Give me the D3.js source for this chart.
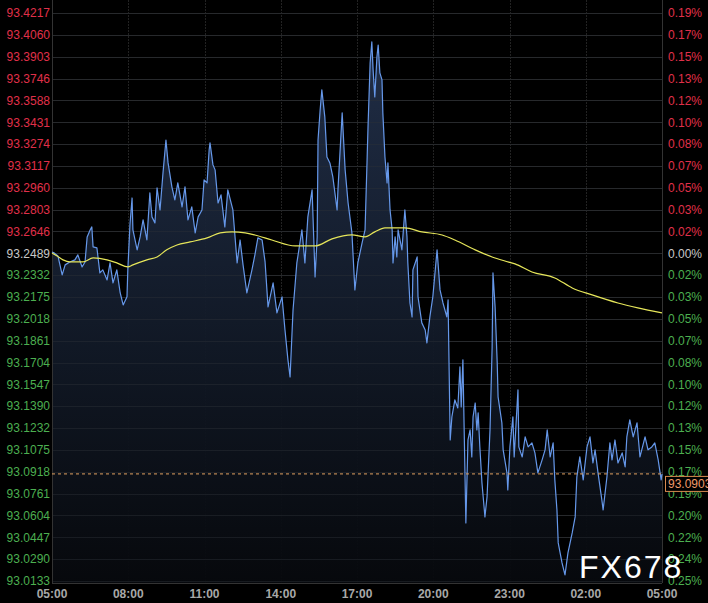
<!DOCTYPE html>
<html><head><meta charset="utf-8">
<script src="https://cdn.jsdelivr.net/npm/d3@7"></script>
<style>
html,body{margin:0;padding:0;background:#000;}
svg{display:block;}
</style></head>
<body>
<svg id="chart" width="708" height="603"></svg>
<script>
// ---------- DATA ----------
const basePrice = 93.2489;
const lastPrice = 93.0903;
const leftLabels = ["93.4217","93.4060","93.3903","93.3746","93.3588","93.3431","93.3274","93.3117","93.2960","93.2803","93.2646","93.2489","93.2332","93.2175","93.2018","93.1861","93.1704","93.1547","93.1390","93.1232","93.1075","93.0918","93.0761","93.0604","93.0447","93.0290","93.0133"];
const rightLabels = ["0.19%","0.17%","0.15%","0.13%","0.12%","0.10%","0.08%","0.07%","0.05%","0.03%","0.02%","0.00%","0.02%","0.03%","0.05%","0.07%","0.08%","0.10%","0.12%","0.13%","0.15%","0.17%","0.19%","0.20%","0.22%","0.24%","0.25%"];
const timeLabels = ["05:00","08:00","11:00","14:00","17:00","20:00","23:00","02:00","05:00"];
const timeTicks = [0,180,360,540,720,900,1080,1260,1440]; // minutes after 05:00

// price series: minutes after 05:00 and price
const priceMinutes = [0,5,14,24,31,42,54,61,71,78,83,90,94,97,106,113,120,130,137,144,153,161,168,177,179,184,189,191,201,208,215,224,231,236,243,248,255,262,269,274,283,290,297,307,314,321,330,338,345,354,359,366,371,373,380,385,392,399,408,415,427,437,444,451,460,472,479,486,496,503,510,522,531,543,550,557,562,569,578,590,597,604,614,621,626,628,633,637,644,649,656,663,673,675,685,692,699,708,715,722,732,739,744,746,751,755,758,762,767,770,774,779,781,786,791,793,798,803,805,810,814,817,826,833,838,840,845,850,852,862,864,873,881,885,892,899,909,916,923,932,935,
  940,944,951,958,963,966,970,973,977,982,987,991,994,999,1003,1006,1010,1015,1022,1027,1034,1039,1041,1046,1051,1053,1062,1065,1074,1076,1081,1088,1091,1100,1102,1110,1117,1124,1133,1140,1147,1157,1164,1169,1176,1183,1187,1192,1195,1204,1211,
  1218,1228,1235,1239,1246,1254,1263,1270,1277,1282,1289,1298,1301,1310,1317,1322,1329,1336,1346,1353,1357,1364,1372,1381,1388,1400,1407,1416,1423,1431,1438,1440];
const prices = [93.2499,93.2492,93.2470,93.2334,93.2406,93.2427,93.2442,93.2478,93.2391,93.2427,93.2607,93.2657,93.2679,93.2535,93.2528,93.2348,93.2370,93.2298,93.2420,93.2276,93.2370,93.2204,93.2118,93.2176,93.2370,93.2693,93.2887,93.2657,93.2514,93.2607,93.2729,93.2585,93.2923,93.2751,93.2708,93.2959,93.2801,93.3067,93.3304,93.3139,93.2967,93.2873,93.2995,93.2823,93.2967,93.2729,93.2823,93.2636,93.2751,93.2801,93.3017,93.2995,93.3233,93.3283,93.3125,93.3089,93.2851,93.2909,93.2679,93.2945,93.2801,93.2420,93.2585,93.2406,93.2204,93.2370,93.2478,93.2600,93.2585,93.2427,93.2104,93.2276,93.2061,93.2176,93.1938,93.1723,93.1600,93.2082,93.2420,93.2657,93.2420,93.2751,93.2945,93.2319,93.2607,93.3304,93.3520,93.3664,93.3470,93.3182,93.3139,93.3038,93.2801,93.2945,93.3499,93.3089,93.2851,93.2636,93.2226,93.2420,93.2564,93.2657,93.3182,93.3398,93.3858,93.4009,93.3808,93.3614,93.3901,93.3987,93.3786,93.3736,93.3499,93.3182,93.2995,93.3139,93.2801,93.2657,93.2420,93.2607,93.2463,93.2657,93.2514,93.2801,93.2607,93.2420,93.2132,93.2032,93.2370,93.2463,93.2176,93.1989,93.1938,93.1845,93.2032,93.2176,93.2514,93.2226,93.2132,93.2032,93.2154,
  93.1147,93.1313,93.1435,93.1377,93.1672,93.1385,93.1723,93.1219,93.0551,93.1147,93.1219,93.1025,93.1313,93.1413,93.1219,93.1342,93.1097,93.0838,93.0594,93.0738,93.1219,93.1816,93.2348,93.2104,93.1701,93.1457,93.1270,93.1076,93.0910,93.0788,93.1097,93.1313,93.1025,93.1507,93.1097,93.1025,93.1169,93.1097,93.1126,93.1054,93.0910,93.1004,93.1076,93.1219,93.1025,93.1126,93.0860,93.0644,93.0407,93.0263,93.0177,
  93.0335,93.0479,93.0594,93.0881,93.1025,93.0860,93.1097,93.1169,93.0982,93.1076,93.0910,93.0716,93.0644,93.0881,93.1126,93.1004,93.1147,93.0982,93.1054,93.0953,93.1169,93.1291,93.1169,93.1270,93.1025,93.1169,93.1076,93.1097,93.1126,93.1004,93.0860,93.0903];

// moving average series
const maMinutes = [0,12,26,42,73,97,130,153,179,191,224,248,271,295,326,366,397,425,456,479,519,574,621,661,708,739,762,786,833,873,921,951,999,1039,1069,1093,1133,1187,1228,1275,1336,1383,1440];
const maPrices = [93.2492,93.2470,93.2442,93.2427,93.2427,93.2456,93.2442,93.2420,93.2391,93.2406,93.2442,93.2463,93.2514,93.2549,93.2571,93.2600,93.2636,93.2643,93.2636,93.2621,93.2585,93.2542,93.2542,93.2593,93.2621,93.2607,93.2643,93.2672,93.2672,93.2643,93.2621,93.2585,93.2514,93.2463,93.2434,93.2413,93.2355,93.2312,93.2240,93.2190,93.2132,93.2097,93.2061];

// ---------- CHART ----------
(function(){
const svg = d3.select("#chart");
const pLeft = 52, pRight = 662, pTop = 13, pBottom = 581;
const x = d3.scaleLinear().domain([0,1440]).range([pLeft,pRight]);
const y = d3.scaleLinear().domain([+leftLabels[leftLabels.length-1], +leftLabels[0]]).range([pBottom, pTop]);

svg.append("rect").attr("width",708).attr("height",603).attr("fill","#000");

const defs = svg.append("defs");
const grad = defs.append("linearGradient").attr("id","areaGrad")
  .attr("gradientUnits","userSpaceOnUse").attr("x1",0).attr("y1",40).attr("x2",0).attr("y2",583);
grad.append("stop").attr("offset","0%").attr("stop-color","#22304a");
grad.append("stop").attr("offset","55%").attr("stop-color","#121a28");
grad.append("stop").attr("offset","100%").attr("stop-color","#07090d");

// horizontal grid
const gridG = svg.append("g");
leftLabels.forEach(v => {
  gridG.append("line").attr("x1",pLeft).attr("x2",pRight)
    .attr("y1",Math.round(y(+v))+0.5).attr("y2",Math.round(y(+v))+0.5)
    .attr("stroke","#262626").attr("stroke-width",1);
});
// vertical grid
timeTicks.forEach(t => {
  gridG.append("line").attr("x1",Math.round(x(t))+0.5).attr("x2",Math.round(x(t))+0.5)
    .attr("y1",0).attr("y2",583)
    .attr("stroke","#222").attr("stroke-width",1).attr("stroke-dasharray","2,1");
});

const pts = priceMinutes.map((m,i)=>[m,prices[i]]);
const area = d3.area().x(d=>x(d[0])).y0(583).y1(d=>y(d[1]));
svg.append("path").datum(pts).attr("d",area).attr("fill","url(#areaGrad)").attr("opacity",0.95);

// re-draw grid faintly over fill
leftLabels.forEach(v => {
  svg.append("line").attr("x1",pLeft).attr("x2",pRight)
    .attr("y1",Math.round(y(+v))+0.5).attr("y2",Math.round(y(+v))+0.5)
    .attr("stroke","#2a2e36").attr("stroke-opacity",0.45).attr("stroke-width",1);
});

// axis frame
svg.append("line").attr("x1",pLeft+0.5).attr("x2",pLeft+0.5).attr("y1",0).attr("y2",583).attr("stroke","#333");
svg.append("line").attr("x1",pRight+0.5).attr("x2",pRight+0.5).attr("y1",0).attr("y2",583).attr("stroke","#333");
svg.append("line").attr("x1",pLeft).attr("x2",pRight).attr("y1",583.5).attr("y2",583.5).attr("stroke","#333");

// price line
const line = d3.line().x(d=>x(d[0])).y(d=>y(d[1]));
svg.append("path").datum(pts).attr("d",line).attr("fill","none")
  .attr("stroke","#6698ea").attr("stroke-width",1.2).attr("stroke-linejoin","round");

// MA line
const maPts = maMinutes.map((m,i)=>[m,maPrices[i]]);
svg.append("path").datum(maPts).attr("d",d3.line().curve(d3.curveMonotoneX).x(d=>x(d[0])).y(d=>y(d[1])))
  .attr("fill","none").attr("stroke","#e6e65a").attr("stroke-width",1.2);

// last price dashed line
svg.append("line").attr("x1",pLeft).attr("x2",pRight).attr("y1",y(lastPrice)).attr("y2",y(lastPrice))
  .attr("stroke","#e0a060").attr("stroke-width",1).attr("stroke-dasharray","3,3");

// left / right labels
const colorFor = v => (Math.abs(v-basePrice)<1e-6 ? "#c8c8c8" : (v>basePrice ? "#e0304a" : "#4caf50"));
const font = "'Liberation Sans', Arial, sans-serif";
leftLabels.forEach((s,i) => {
  const v = +s;
  svg.append("text").attr("x",50).attr("y",y(v)).attr("dy","0.36em")
    .attr("text-anchor","end").attr("font-family",font).attr("font-size",12)
    .attr("fill",colorFor(v)).text(s);
  svg.append("text").attr("x",668).attr("y",y(v)).attr("dy","0.36em")
    .attr("text-anchor","start").attr("font-family",font).attr("font-size",12)
    .attr("fill",colorFor(v)).text(rightLabels[i]);
});

// bottom time labels
timeTicks.forEach((t,i) => {
  svg.append("text").attr("x",x(t)).attr("y",598).attr("text-anchor","middle")
    .attr("font-family",font).attr("font-size",12).attr("font-weight","bold")
    .attr("fill","#a8a8a8").text(timeLabels[i]);
});

// last price label
const ly = y(lastPrice);
svg.append("rect").attr("x",665.5).attr("y",ly+2.5).attr("width",46).attr("height",15)
  .attr("fill","#000").attr("stroke","#d88a50").attr("stroke-width",1);
svg.append("text").attr("x",668).attr("y",ly+10).attr("dy","0.36em")
  .attr("font-family",font).attr("font-size",12).attr("fill","#f09a6a").text(lastPrice.toFixed(4));

// watermark
svg.append("text").attr("x",579).attr("y",578).attr("font-family",font).attr("font-size",32)
  .attr("letter-spacing",2).attr("fill","#ffffff").text("FX678");
})();
</script>
</body></html>
